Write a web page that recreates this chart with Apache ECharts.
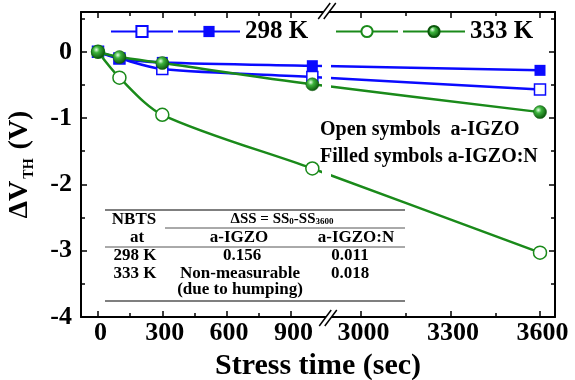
<!DOCTYPE html>
<html><head><meta charset="utf-8">
<script src="https://cdn.jsdelivr.net/npm/echarts@6/dist/echarts.min.js"></script>
<style>html,body{margin:0;padding:0;background:#fff}#c{width:575px;height:380px}</style>
</head><body><div id="c"></div>
<script>
// ---- data ----
const stressTime = [0, 100, 300, 1000, 3600];
const dVth298Open = [0, -0.10, -0.26, -0.38, -0.57];
const dVth298Filled = [0, -0.10, -0.16, -0.21, -0.28];
const dVth333Open = [0, -0.39, -0.95, -1.76, -3.03];
const dVth333Filled = [0, -0.08, -0.17, -0.49, -0.91];
const xMajorTicks = [0, 300, 600, 900, 3000, 3300, 3600];
const xMinorTicks = [150, 450, 750, 3150, 3450];
const yMajorTicks = [0, -1, -2, -3, -4];
const yMinorTicks = [0.5, -0.5, -1.5, -2.5, -3.5];
const tableHeader = ['NBTS', 'at', 'a-IGZO', 'a-IGZO:N'];
const tableRow298 = ['298 K', '0.156', '0.011'];
const tableRow333 = ['333 K', 'Non-measurable', '0.018', '(due to humping)'];
const noteLines = ['Open symbols  a-IGZO', 'Filled symbols a-IGZO:N'];

// ---- broken x axis transform (two linear segments) ----
const LEFT_SCALE = 64.3 / 300, RIGHT_SCALE = 179 / 600;
const RIGHT_T0 = 3000, RIGHT_U0 = 263, SPLIT_T = 2000, BREAK_U = 230;
const X_MIN_U = -17, X_MAX_U = 457;
function toU(t) { return t < SPLIT_T ? t * LEFT_SCALE : RIGHT_U0 + (t - RIGHT_T0) * RIGHT_SCALE; }
function fromU(u) { return u < BREAK_U ? u / LEFT_SCALE : RIGHT_T0 + (u - RIGHT_U0) / RIGHT_SCALE; }

const FONT = "'Times New Roman', 'Liberation Serif', serif";
const BLUE = '#0a0aff', GREEN = '#1a8a1a';
const ball = {type: 'radial', x: 0.38, y: 0.35, r: 0.65, colorStops: [
  {offset: 0, color: '#e6ffe6'}, {offset: 0.35, color: '#3cb33c'}, {offset: 1, color: '#0b560b'}]};

const chart = echarts.init(document.getElementById('c'));
const gridRect = {left: 81, right: 20, top: 12, bottom: 63, containLabel: false, outerBoundsMode: 'none'};
const axisLine = {show: true, onZero: false, lineStyle: {color: '#000', width: 2}};
const noLine = {show: false, onZero: false};

function xAx(grid, pos, ticks, len, main) {
  return {type: 'value', gridIndex: grid, position: pos, min: X_MIN_U, max: X_MAX_U,
    axisLine: main ? axisLine : noLine, splitLine: {show: false},
    axisTick: {show: true, inside: true, length: len, customValues: ticks.map(toU), lineStyle: {color: '#000', width: 1.5}},
    axisLabel: main && pos === 'bottom' ? {show: true, customValues: ticks.map(toU), margin: 3,
      formatter: v => String(Math.round(fromU(v))), fontFamily: FONT, fontWeight: 'bold', fontSize: 26, color: '#000', padding: [0, 0, 0, 5]} : {show: false}};
}
function yAx(grid, pos, ticks, len, main) {
  return {type: 'value', gridIndex: grid, position: pos, min: -4, max: 0.6,
    axisLine: main ? axisLine : noLine, splitLine: {show: false},
    axisTick: {show: true, inside: true, length: len, customValues: ticks, lineStyle: {color: '#000', width: 1.5}},
    axisLabel: main && pos === 'left' ? {show: true, customValues: ticks, margin: 9,
      fontFamily: FONT, fontWeight: 'bold', fontSize: 26, color: '#000'} : {show: false}};
}
const xAxes = [xAx(0, 'bottom', xMajorTicks, 6, true), xAx(0, 'top', xMajorTicks, 6, true),
  xAx(1, 'bottom', xMinorTicks, 4, false), xAx(1, 'top', xMinorTicks, 4, false)];
Object.assign(xAxes[0], {name: 'Stress time (sec)', nameLocation: 'middle', nameGap: 31,
  nameTextStyle: {fontFamily: FONT, fontWeight: 'bold', fontSize: 30, color: '#000'}});
const yAxes = [yAx(0, 'left', yMajorTicks, 6, true), yAx(0, 'right', yMajorTicks, 6, true),
  yAx(1, 'left', yMinorTicks, 4, false), yAx(1, 'right', yMinorTicks, 4, false)];
Object.assign(yAxes[0], {name: '{a|ΔV}{b|TH}{a| (V)}', nameLocation: 'middle', nameGap: 45, nameRotate: 90,
  nameTextStyle: {rich: {
    a: {fontFamily: FONT, fontWeight: 'bold', fontSize: 28, color: '#000', lineHeight: 32},
    b: {fontFamily: FONT, fontWeight: 'bold', fontSize: 14, color: '#000', verticalAlign: 'bottom', lineHeight: 32, padding: [10, 2, 0, 2]}}}});

function mk(name, vals, symbol, size, color, fill, z) {
  return {name, type: 'line', xAxisIndex: 0, yAxisIndex: 0, smooth: 0.3, z,
    data: stressTime.map((t, i) => [toU(t), vals[i]]),
    symbol, symbolSize: size, showAllSymbol: true,
    lineStyle: {color, width: 2.5},
    itemStyle: fill === 'open' ? {color: '#fff', borderColor: color, borderWidth: 1.5} : {color: fill, borderColor: fill === ball ? '#0b560b' : color, borderWidth: fill === ball ? 0.5 : 0},
    emphasis: {disabled: true}};
}
const legendBase = {itemWidth: 62, itemHeight: 14, itemGap: 3, top: 19, selectedMode: false, padding: 0,
  textStyle: {fontFamily: FONT, fontWeight: 'bold', fontSize: 25, color: '#000'}};

chart.setOption({
  animation: false,
  backgroundColor: '#fff',
  grid: [gridRect, gridRect],
  xAxis: xAxes, yAxis: yAxes,
  legend: [
    Object.assign({}, legendBase, {left: 110, data: ['298 K a-IGZO', '298 K a-IGZO:N'],
      formatter: n => n === '298 K a-IGZO:N' ? '298 K' : ''}),
    Object.assign({}, legendBase, {left: 335, data: ['333 K a-IGZO', '333 K a-IGZO:N'],
      formatter: n => n === '333 K a-IGZO:N' ? '333 K' : ''})
  ],
  series: [
    mk('298 K a-IGZO', dVth298Open, 'rect', 11, BLUE, 'open', 2),
    mk('298 K a-IGZO:N', dVth298Filled, 'rect', 11, BLUE, BLUE, 3),
    mk('333 K a-IGZO', dVth333Open, 'circle', 13, GREEN, 'open', 4),
    mk('333 K a-IGZO:N', dVth333Filled, 'circle', 13, GREEN, ball, 5)
  ]
});

// ---- decorations: break marks, note, table ----
const bx = chart.convertToPixel({xAxisIndex: 0}, BREAK_U);
const yTop = chart.convertToPixel({yAxisIndex: 0}, 0.6);
const yBot = chart.convertToPixel({yAxisIndex: 0}, -4);
function slashes(cx, cy) {
  const dx = 6, dy = 8, o = 2.8;
  return [
    {type: 'polygon', z: 70, shape: {points: [[cx - o - dx, cy + dy], [cx + o - dx, cy + dy], [cx + o + dx, cy - dy], [cx - o + dx, cy - dy]]}, style: {fill: '#fff'}},
    {type: 'line', z: 71, shape: {x1: cx - o - dx, y1: cy + dy, x2: cx - o + dx, y2: cy - dy}, style: {stroke: '#000', lineWidth: 1.5}},
    {type: 'line', z: 71, shape: {x1: cx + o - dx, y1: cy + dy, x2: cx + o + dx, y2: cy - dy}, style: {stroke: '#000', lineWidth: 1.5}}
  ];
}
const tStyle = (text, x, y, size, extra) => ({type: 'text', z: 80, x, y,
  style: Object.assign({text, fill: '#000', font: 'bold ' + size + 'px ' + FONT, align: 'center', verticalAlign: 'middle'}, extra || {})});
const hl = (x1, x2, y, w) => ({type: 'line', z: 80, shape: {x1, y1: y, x2, y2: y}, style: {stroke: '#555', lineWidth: w}});
const TS = 17;
const graphics = [
  {type: 'rect', z: 60, shape: {x: bx - 6, y: yTop + 2, width: 9, height: 206 - yTop - 2}, style: {fill: '#fff'}},
  ...slashes(bx - 1, yTop - 1),
  ...slashes(bx, yBot + 1),
  tStyle(noteLines[0], 320, 130, 20, {align: 'left'}),
  tStyle(noteLines[1], 320, 157, 20, {align: 'left'}),
  hl(105, 405, 210, 1.5), hl(165, 405, 228, 1), hl(105, 405, 247, 1), hl(105, 405, 301, 1.5),
  tStyle(tableHeader[0], 134, 220, TS), tStyle(tableHeader[1], 137, 238, TS),
  {type: 'text', z: 80, x: 282, y: 219, style: {text: '{m|ΔSS = SS}{s|0}{m|-SS}{s|3600}', align: 'center', verticalAlign: 'middle',
    rich: {m: {font: 'bold 15px ' + FONT, fill: '#000', lineHeight: 15}, s: {font: 'bold 9px ' + FONT, fill: '#000', verticalAlign: 'bottom', lineHeight: 15, padding: [5, 0, 0, 0]}}}},
  tStyle(tableHeader[2], 239, 238, TS), tStyle(tableHeader[3], 356, 238, TS),
  tStyle(tableRow298[0], 135, 256, TS), tStyle(tableRow298[1], 242, 256, TS), tStyle(tableRow298[2], 350, 256, TS),
  tStyle(tableRow333[0], 135, 274, TS), tStyle(tableRow333[1], 240, 274, TS), tStyle(tableRow333[2], 350, 274, TS),
  tStyle(tableRow333[3], 240, 290, TS)
];
chart.setOption({graphic: graphics});
</script></body></html>
